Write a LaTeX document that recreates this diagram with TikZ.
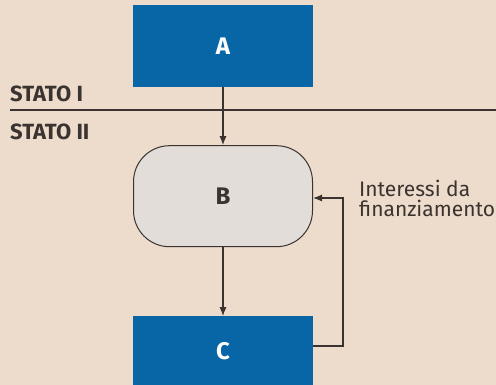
\documentclass[tikz,border=0pt]{standalone}
\usepackage{fontspec}
\setmainfont{Fira Sans}
\usepackage{tikz}
\usetikzlibrary{positioning,arrows.meta}
\definecolor{sfondo}{HTML}{EDDCCB}
\definecolor{blu}{HTML}{0866A6}
\definecolor{grigio}{HTML}{E3DDD9}
\definecolor{linea}{HTML}{3A3330}
\tikzset{
  box/.style={draw=none, fill=blu, text=white, minimum width=180pt, minimum height=82pt, font=\fontsize{24}{26}\selectfont\bfseries, inner sep=0pt},
  tondo/.style={draw=linea, line width=1pt, fill=grigio, rounded corners=36pt, minimum width=179pt, minimum height=101pt, font=\fontsize{24}{26}\selectfont\bfseries, text=linea},
  freccia/.style={-{Latex[length=9pt,width=7pt]}, draw=linea, line width=1.2pt},
  stato/.style={anchor=base west, font=\fontsize{22}{24}\selectfont\bfseries, text=linea, inner sep=0pt}
}
\begin{document}
\begin{tikzpicture}[x=1pt,y=-1pt]
\fill[sfondo] (0,0) rectangle (496,385);
\useasboundingbox (0,0) rectangle (496,385);
\node[box] (a) at (223,46) {A}; \node[tondo, below=58pt of a] (b) {B}; \node[box, minimum height=70pt, below=69pt of b] (c) {C};
\coordinate (l1) at (10,110); \coordinate (l2) at (496,110);
\node[stato] (s1) at (10,102) {STATO I}; \node[stato] (s2) at (10,140) {STATO II};
\draw[linea, line width=1.3pt] (l1) -- (l2);
\coordinate (k) at (343,346); \coordinate (h) at (343,198);
\node[anchor=base west, align=left, font=\fontsize{21}{20}\selectfont, text=linea, inner sep=0pt] (lab) at (359,217) {Interessi da\\finanziamento};
\draw[freccia] (a) -- (b); \draw[freccia] (b) -- (c);
\draw[freccia] (c.east |- k) -- (k) -- (h) -- (b.east |- h);
\end{tikzpicture}
\end{document}
